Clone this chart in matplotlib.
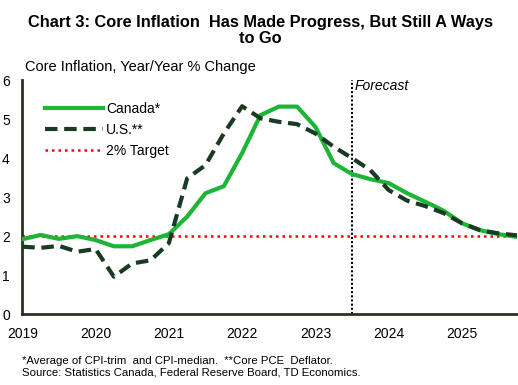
import matplotlib
matplotlib.use("Agg")
import matplotlib.pyplot as plt
import numpy as np

plt.rcParams["font.family"] = ["Liberation Sans", "DejaVu Sans"]

# quarterly, 2019Q1 .. 2025Q4
quarters = np.arange(2019, 2026, 0.25)
canada = [1.92, 2.03, 1.93, 2.0, 1.9, 1.74, 1.74, 1.9, 2.05, 2.5, 3.1, 3.28,
          4.13, 5.1, 5.32, 5.32, 4.8, 3.87, 3.59, 3.46, 3.36, 3.1, 2.88, 2.65,
          2.33, 2.15, 2.05, 1.98]
us = [1.73, 1.7, 1.75, 1.6, 1.67, 0.96, 1.3, 1.38, 1.82, 3.48, 3.82, 4.63,
      5.33, 5.02, 4.93, 4.87, 4.63, 4.29, 4.0, 3.69, 3.18, 2.91, 2.77, 2.59,
      2.33, 2.15, 2.07, 2.02]
target = 2.0
forecast_start = 2023.5
year_ticks = [2019, 2020, 2021, 2022, 2023, 2024, 2025]

fig = plt.figure(figsize=(5.18, 3.85), dpi=100)
ax = fig.add_axes([0.043, 0.184, 0.955, 0.608])

ax.plot(quarters, canada, color="#1db535", lw=3, label="Canada*", zorder=3)
ax.plot(quarters, us, color="#1a3a24", lw=3, ls=(0, (3, 1.6)), label="U.S.**", zorder=4)
ax.axhline(target, color="#ff0000", lw=1.8, ls=(0, (1, 1.6)), label="2% Target", zorder=2)
ax.axvline(forecast_start, color="black", lw=1.5, ls=(0, (1, 1)), zorder=1)
ax.text(forecast_start + 0.03, 5.85, "Forecast", style="italic", fontsize=10,
        va="center", ha="left")

ax.set_xlim(2019, 2025.75)
ax.set_ylim(0, 6)
ax.set_xticks(year_ticks)
ax.set_xticklabels([str(y) for y in year_ticks])
ax.set_yticks(range(0, 7))
ax.tick_params(length=0, labelsize=10, colors="black")
ax.tick_params(axis="x", pad=9)
ax.tick_params(axis="y", pad=9)
for s in ["top", "right"]:
    ax.spines[s].set_visible(False)
for s in ["left", "bottom"]:
    ax.spines[s].set_color("#2b3320")
    ax.spines[s].set_linewidth(2)

ax.legend(loc="upper left", bbox_to_anchor=(0.02, 0.96), frameon=False, fontsize=10,
          handlelength=4.2, handletextpad=0.2, labelspacing=0.5)

fig.text(0.502, 0.96, "Chart 3: Core Inflation  Has Made Progress, But Still A Ways\nto Go",
         ha="center", va="top", fontsize=11.8, fontweight="bold", linespacing=1.05)
fig.text(0.048, 0.825, "Core Inflation, Year/Year % Change", fontsize=10.5, va="center")
fig.text(0.042, 0.048, "*Average of CPI-trim  and CPI-median.  **Core PCE  Deflator.\n"
         "Source: Statistics Canada, Federal Reserve Board, TD Economics.",
         fontsize=8.2, va="center", linespacing=1.15)

fig.savefig("out.png", dpi=100)
